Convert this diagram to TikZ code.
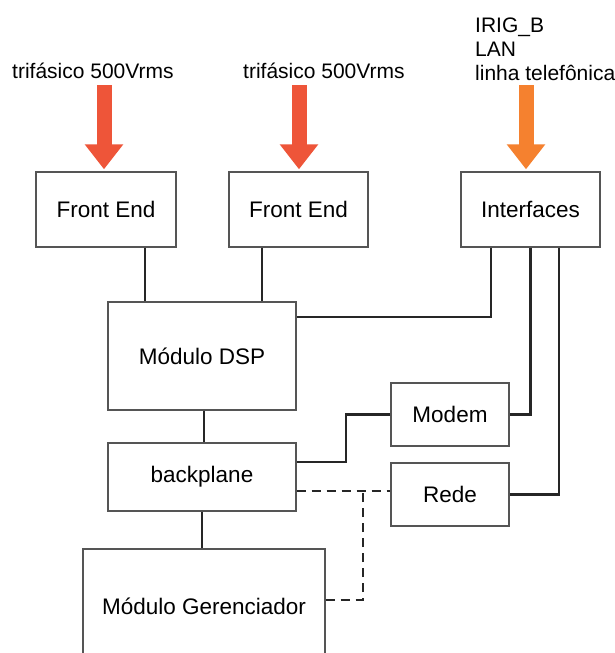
\documentclass[tikz,border=0pt]{standalone}
\usepackage{fontspec}
\setmainfont{Liberation Sans}
\usepackage{tikz}
\usetikzlibrary{arrows.meta}
\definecolor{boxline}{HTML}{555555}
\definecolor{wirecol}{HTML}{262626}
\definecolor{power}{HTML}{EE5539}
\definecolor{signal}{HTML}{F5812F}
\newcommand{\BoxFont}{\fontsize{22.5}{27}\selectfont}
\newcommand{\LabelFont}{\fontsize{21}{24}\selectfont}

\tikzset{
  block/.style={draw=boxline,line width=1.4pt,fill=white,inner sep=0pt,font=\BoxFont},
  lbl/.style={inner sep=0pt,font=\LabelFont},
  wire/.style={wirecol,line width=2.2pt},
  bus/.style={wirecol,line width=2pt,dash pattern=on 9pt off 6pt},
  feed/.style={line width=15pt,-{Triangle[width=37pt,length=25pt]},shorten >=2pt}
}

\begin{document}
\begin{tikzpicture}[x=1pt,y=-1pt]
  \clip (0,0) rectangle (615,653);
  \fill[white] (0,0) rectangle (615,653);
  % blocos
  \node[block,minimum width=140pt,minimum height=75pt] (fe1) at (106,209.5) {Front End};
  \node[block,minimum width=139pt,minimum height=75pt] (fe2) at (298.5,209.5) {Front End};
  \node[block,minimum width=139pt,minimum height=75pt] (ifc) at (530.5,209.5) {Interfaces};
  \node[block,minimum width=188pt,minimum height=108pt] (dsp) at (202,356) {Módulo DSP};
  \node[block,minimum width=188pt,minimum height=68pt] (bp) at (202,477) {backplane};
  \node[block,minimum width=242pt,minimum height=114pt] (ger) at (204,606) {Módulo Gerenciador};
  \node[block,minimum width=118pt,minimum height=63pt] (modem) at (450,414.5) {Modem};
  \node[block,minimum width=118pt,minimum height=63pt] (rede) at (450,494.5) {Rede};
  % entradas
  \node[lbl,anchor=base west] (in1) at (12,78) {trifásico 500Vrms};
  \node[lbl,anchor=base west] (in2) at (243,78) {trifásico 500Vrms};
  \node[lbl,anchor=base west,align=left] (in3) at (475,80) {IRIG\_B\\LAN\\linha telefônica};
  \draw[feed,power] ([xshift=-2pt,yshift=86pt]fe1.north) -- ([xshift=-2pt]fe1.north);
  \draw[feed,power] ([xshift=0.5pt,yshift=86pt]fe2.north) -- ([xshift=0.5pt]fe2.north);
  \draw[feed,signal] ([xshift=-4.5pt,yshift=86pt]ifc.north) -- ([xshift=-4.5pt]ifc.north);
  % ligacoes
  \coordinate (fe1out) at ([xshift=-32pt]fe1.south east);
  \coordinate (fe2out) at ([xshift=34pt]fe2.south west);
  \coordinate (ifcdsp) at ([xshift=31pt]ifc.south west);
  \coordinate (ifcrede) at ([xshift=-42pt]ifc.south east);
  \coordinate (dspin) at ([yshift=-16pt]dsp.north east);
  \coordinate (dspout) at ([xshift=2pt]dsp.south);
  \coordinate (bpmodem) at ([yshift=-20pt]bp.north east);
  \coordinate (bprede) at ([yshift=-14pt]bp.east);
  \coordinate (tee) at ([xshift=66pt]bprede);
  \coordinate (gerout) at ([yshift=6pt]ger.east);
  \draw[wire] (fe1out) -- (fe1out |- dsp.north);
  \draw[wire] (fe2out) -- (fe2out |- dsp.north);
  \draw[wire] (ifcdsp) |- (dspin);
  \draw[wire] (ifc.south) |- (modem.east);
  \draw[wire] (ifcrede) |- (rede.east);
  \draw[wire] (dspout) -- (dspout |- bp.north);
  \draw[wire] (bp.south) -- (bp.south |- ger.north);
  \draw[wire] (modem.west) -- ++(-44,0) |- (bpmodem);
  \draw[bus] (bprede) -- (bprede -| rede.west);
  \draw[bus] (gerout) -| (tee);
\end{tikzpicture}
\end{document}
